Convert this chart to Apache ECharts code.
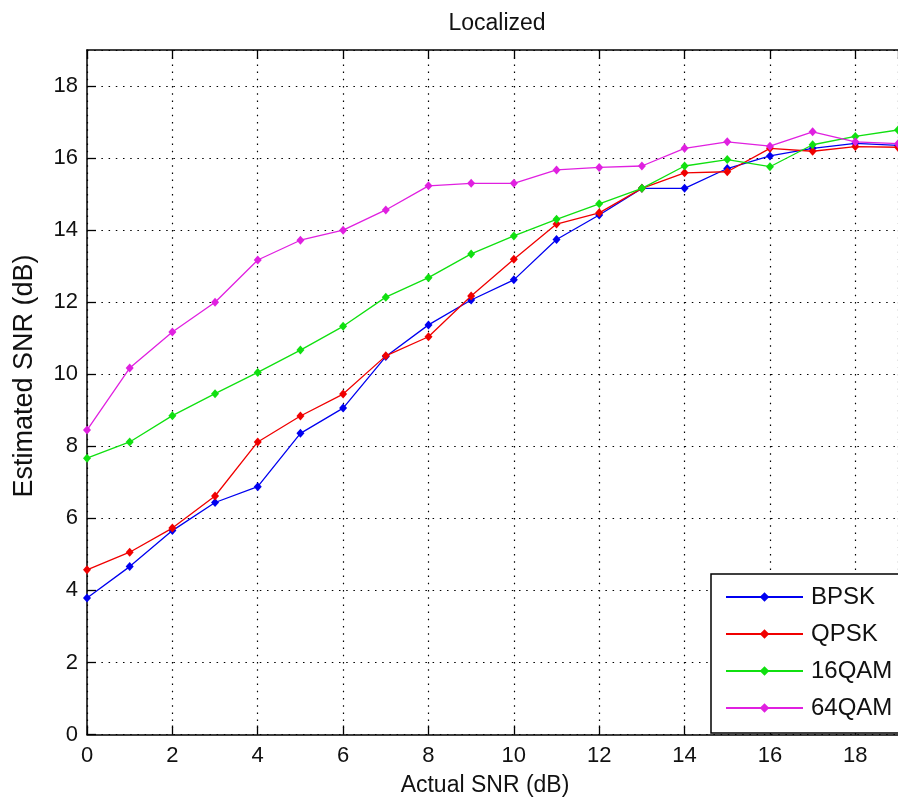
<!DOCTYPE html>
<html>
<head>
<meta charset="utf-8">
<script src="https://cdn.jsdelivr.net/npm/echarts@6/dist/echarts.min.js"></script>
<style>
  html, body { margin: 0; padding: 0; background: #fff; }
  #chart { width: 898px; height: 806px; }
</style>
</head>
<body>
<div id="chart"></div>
<script>
// Actual SNR (dB) on the x axis
const snrActual = [0, 1, 2, 3, 4, 5, 6, 7, 8, 9, 10, 11, 12, 13, 14, 15, 16, 17, 18, 19];

// Estimated SNR (dB) per modulation
const bpsk  = [3.79, 4.66, 5.66, 6.44, 6.88, 8.36, 9.06, 10.49, 11.37, 12.06, 12.62, 13.74, 14.42, 15.16, 15.16, 15.71, 16.06, 16.27, 16.41, 16.35];
const qpsk  = [4.57, 5.06, 5.73, 6.62, 8.12, 8.84, 9.45, 10.51, 11.04, 12.17, 13.19, 14.17, 14.48, 15.16, 15.59, 15.62, 16.27, 16.19, 16.32, 16.30];
const qam16 = [7.67, 8.12, 8.85, 9.46, 10.05, 10.67, 11.33, 12.14, 12.68, 13.34, 13.84, 14.30, 14.73, 15.16, 15.78, 15.96, 15.76, 16.37, 16.60, 16.78];
const qam64 = [8.45, 10.17, 11.17, 12.00, 13.17, 13.72, 14.00, 14.56, 15.23, 15.30, 15.30, 15.67, 15.74, 15.78, 16.27, 16.45, 16.33, 16.73, 16.45, 16.40];

const seriesNames = ['BPSK', 'QPSK', '16QAM', '64QAM'];
const seriesColors = ['#0000f0', '#f00000', '#10e010', '#e020e0'];
const seriesValues = [bpsk, qpsk, qam16, qam64];

const titleText = 'Localized';
const xTitle = 'Actual SNR (dB)';
const yTitle = 'Estimated SNR (dB)';

const FONT = '"Liberation Sans", Arial, sans-serif';

const chart = echarts.init(document.getElementById('chart'), null, { renderer: 'canvas' });

const dotted = { color: '#000', width: 1.2, type: [1.5, 5.7] };

const option = {
  animation: false,
  backgroundColor: '#fff',
  title: {
    text: titleText,
    left: 492,
    top: 7,
    textAlign: 'center',
    textStyle: { fontFamily: FONT, fontSize: 23, fontWeight: 'normal', color: '#111' }
  },
  grid: { left: 87, top: 50, right: -6, bottom: 71.5, containLabel: false },
  xAxis: [
    {
      type: 'value', min: 0, max: 19, interval: 2,
      axisLine: { show: true, onZero: false, lineStyle: { color: '#000', width: 1.5 } },
      axisTick: { show: true, inside: true, length: 9, lineStyle: { color: '#000', width: 1.3 } },
      axisLabel: { show: true, margin: 10, showMaxLabel: false, fontFamily: FONT, fontSize: 22, color: '#111' },
      splitLine: { show: true, lineStyle: dotted }
    },
    {
      type: 'value', position: 'top', min: 0, max: 19, interval: 2,
      axisLine: { show: true, onZero: false, lineStyle: { color: '#000', width: 1.5 } },
      axisTick: { show: true, inside: true, length: 9, lineStyle: { color: '#000', width: 1.3 } },
      axisLabel: { show: false },
      splitLine: { show: false }
    }
  ],
  yAxis: [
    {
      type: 'value', min: 0, max: 19, interval: 2,
      axisLine: { show: true, onZero: false, lineStyle: { color: '#000', width: 1.5 } },
      axisTick: { show: true, inside: true, length: 9, lineStyle: { color: '#000', width: 1.3 } },
      axisLabel: { show: true, margin: 9, showMaxLabel: false, fontFamily: FONT, fontSize: 22, color: '#111' },
      splitLine: { show: true, lineStyle: dotted }
    }
  ],
  legend: {
    orient: 'vertical',
    left: 711,
    top: 574,
    padding: [11, 130, 13, 14],
    itemWidth: 77,
    itemHeight: 12,
    itemGap: 13,
    backgroundColor: '#fff',
    borderColor: '#000',
    borderWidth: 1.5,
    borderRadius: 0,
    textStyle: { fontFamily: FONT, fontSize: 24, lineHeight: 24, color: '#111', padding: [0, 0, 0, 3] },
    data: seriesNames
  },
  graphic: [
    {
      type: 'text',
      x: 485, y: 786,
      style: { text: xTitle, font: '23px ' + FONT, fill: '#111', textAlign: 'center', textVerticalAlign: 'middle' }
    },
    {
      type: 'text',
      x: 25, y: 376,
      rotation: Math.PI / 2,
      style: { text: yTitle, font: '27px ' + FONT, fill: '#111', textAlign: 'center', textVerticalAlign: 'middle' }
    }
  ],
  series: seriesNames.map((name, i) => ({
    name: name,
    type: 'line',
    xAxisIndex: 0,
    yAxisIndex: 0,
    data: snrActual.map((x, j) => [x, seriesValues[i][j]]),
    symbol: 'diamond',
    symbolSize: [8, 9],
    showSymbol: true,
    showAllSymbol: true,
    clip: true,
    lineStyle: { color: seriesColors[i], width: 1.3 },
    itemStyle: { color: seriesColors[i] },
    z: 2 + i
  }))
};

chart.setOption(option);
</script>
</body>
</html>
